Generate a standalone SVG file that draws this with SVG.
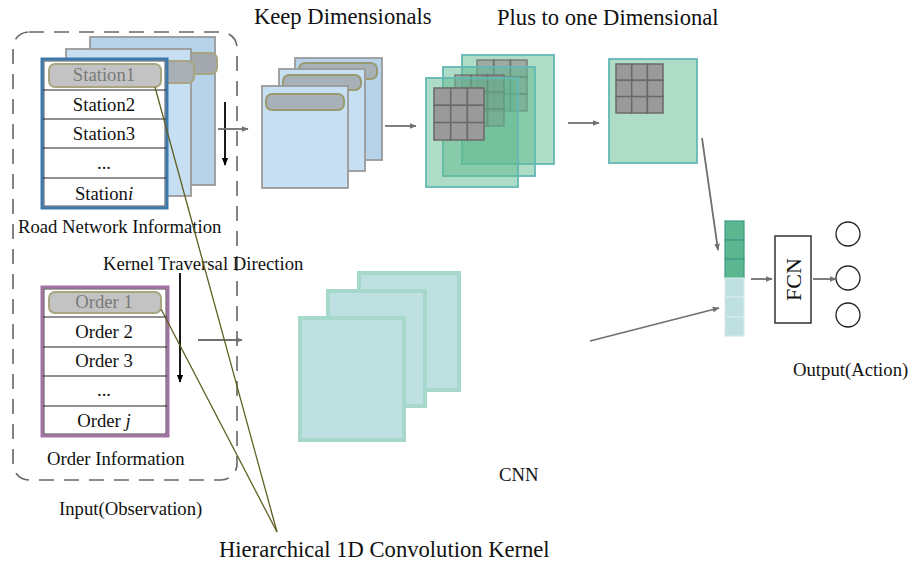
<svg xmlns="http://www.w3.org/2000/svg" width="912" height="564" viewBox="0 0 912 564">
<defs>
<marker id="ah" viewBox="0 0 10 10" refX="9" refY="5" markerWidth="7" markerHeight="7" markerUnits="userSpaceOnUse" orient="auto"><path d="M0,1 L10,5 L0,9 z" fill="#707070"/></marker>
<marker id="ahb" viewBox="0 0 10 10" refX="9" refY="5" markerWidth="8" markerHeight="8" markerUnits="userSpaceOnUse" orient="auto"><path d="M0,1 L10,5 L0,9 z" fill="#000"/></marker>
</defs>
<style>
text{font-family:"Liberation Serif","Times New Roman",serif;fill:#111;}
.t{font-size:18.7px;}
.h{font-size:22.6px;}
.c{text-anchor:middle;}
.sheetB{stroke:#9a9a9a;stroke-width:1.8;}
.bar{fill:#a9b1b8;stroke:#9a9a70;stroke-width:2;}
.grn{fill:#5fb98f;fill-opacity:0.5;stroke:#63b9b5;stroke-width:1.8;}
.grid{fill:#8c8c8c;fill-opacity:0.6;stroke:#6a6a6a;stroke-opacity:0.8;stroke-width:1.5;}
.cnn{fill:#bfe0e0;stroke:#a6d9cb;stroke-width:4;}
.arr{stroke:#707070;stroke-width:1.8;fill:none;marker-end:url(#ah);}
.kern{stroke:#5e5e20;stroke-width:1.3;fill:none;}
.row{stroke:#222;stroke-width:1.2;}
.hl{fill:#c3c3c3;stroke:#a8a680;stroke-width:2;}
</style>
<rect width="912" height="564" fill="#fff"/>

<g id="input-box">
<rect x="13" y="32" width="224" height="448" rx="16" fill="none" stroke="#666" stroke-width="1.6" stroke-dasharray="15,10"/>
</g>

<g id="road-network">
<rect x="90" y="37" width="125" height="148" class="sheetB" fill="#b6d3ea"/>
<rect x="160" y="53" width="57" height="21" rx="6" fill="#a3a9ae" stroke="#a8a680" stroke-width="2"/>
<rect x="66" y="49" width="125" height="147" class="sheetB" fill="#c7dff2"/>
<rect x="150" y="61" width="44" height="22" rx="6" fill="#a9afb4" stroke="#a8a680" stroke-width="2"/>
<rect x="42" y="59" width="125" height="149" fill="#fff" stroke="#3b79ad" stroke-width="3"/>
<rect x="44" y="61" width="121" height="145" fill="none" stroke="#1a2a3a" stroke-width="0.8"/>
<line x1="43" y1="90" x2="166" y2="90" class="row"/>
<line x1="43" y1="119" x2="166" y2="119" class="row"/>
<line x1="43" y1="148" x2="166" y2="148" class="row"/>
<line x1="43" y1="178" x2="166" y2="178" class="row"/>
<rect x="49" y="64" width="112" height="23" rx="6" class="hl"/>
<text x="104" y="81" class="t c" style="fill:#7a7a7a">Station1</text>
<text x="104" y="111" class="t c">Station2</text>
<text x="104" y="140" class="t c">Station3</text>
<text x="104" y="169" class="t c">...</text>
<text x="104" y="200" class="t c">Station<tspan font-style="italic">i</tspan></text>
<text x="18" y="233" class="t">Road Network Information</text>
</g>

<g id="order-info">
<rect x="42" y="287" width="126" height="149" fill="#fff" stroke="#a372a3" stroke-width="3"/>
<rect x="44" y="289" width="122" height="145" fill="none" stroke="#2a1a2a" stroke-width="0.8"/>
<line x1="43" y1="317" x2="167" y2="317" class="row"/>
<line x1="43" y1="347" x2="167" y2="347" class="row"/>
<line x1="43" y1="376" x2="167" y2="376" class="row"/>
<line x1="43" y1="406" x2="167" y2="406" class="row"/>
<rect x="49" y="292" width="112" height="21" rx="6" class="hl"/>
<text x="104" y="308" class="t c" style="fill:#7a7a7a">Order 1</text>
<text x="104" y="338" class="t c">Order 2</text>
<text x="104" y="367" class="t c">Order 3</text>
<text x="104" y="396" class="t c">...</text>
<text x="104" y="427" class="t c">Order <tspan font-style="italic">j</tspan></text>
<text x="47" y="465" class="t">Order Information</text>
</g>

<g id="labels">
<text x="103" y="270" class="t">Kernel Traversal Direction</text>
<text x="59" y="515" class="t">Input(Observation)</text>
<text x="254" y="24" class="h">Keep Dimensionals</text>
<text x="497" y="25" class="h">Plus to one Dimensional</text>
<text x="499" y="481" class="t">CNN</text>
<text x="793" y="376" class="t">Output(Action)</text>
<text x="219" y="557" class="h">Hierarchical 1D Convolution Kernel</text>
</g>

<g id="keep-dim">
<rect x="295" y="58" width="87" height="102" class="sheetB" fill="#b6d3ea"/>
<rect x="299" y="63" width="78" height="16" rx="6" class="bar"/>
<rect x="279" y="69" width="86" height="102" class="sheetB" fill="#c7dff2"/>
<rect x="283" y="75" width="78" height="15" rx="6" class="bar"/>
<rect x="262" y="86" width="86" height="102" class="sheetB" fill="#c7dff2"/>
<rect x="266" y="94" width="78" height="16" rx="6" class="bar"/>
</g>

<g id="green-stack">
<rect x="462" y="55" width="92" height="109" class="grn"/>
<g class="grid">
<rect x="477" y="60" width="16.7" height="17"/><rect x="493.7" y="60" width="16.7" height="17"/><rect x="510.4" y="60" width="16.6" height="17"/>
<rect x="477" y="77" width="16.7" height="17"/><rect x="493.7" y="77" width="16.7" height="17"/><rect x="510.4" y="77" width="16.6" height="17"/>
<rect x="477" y="94" width="16.7" height="17"/><rect x="493.7" y="94" width="16.7" height="17"/><rect x="510.4" y="94" width="16.6" height="17"/>
</g>
<rect x="443" y="67" width="92" height="109" class="grn"/>
<g class="grid">
<rect x="455" y="75" width="16.3" height="17"/><rect x="471.3" y="75" width="16.3" height="17"/><rect x="487.6" y="75" width="16.4" height="17"/>
<rect x="455" y="92" width="16.3" height="17"/><rect x="471.3" y="92" width="16.3" height="17"/><rect x="487.6" y="92" width="16.4" height="17"/>
<rect x="455" y="109" width="16.3" height="17"/><rect x="471.3" y="109" width="16.3" height="17"/><rect x="487.6" y="109" width="16.4" height="17"/>
</g>
<rect x="426" y="78" width="92" height="109" class="grn"/>
<g class="grid" style="fill-opacity:1;fill:#9a9a9a;stroke-opacity:1">
<rect x="434" y="88" width="16.7" height="17.3"/><rect x="450.7" y="88" width="16.7" height="17.3"/><rect x="467.4" y="88" width="16.6" height="17.3"/>
<rect x="434" y="105.3" width="16.7" height="17.3"/><rect x="450.7" y="105.3" width="16.7" height="17.3"/><rect x="467.4" y="105.3" width="16.6" height="17.3"/>
<rect x="434" y="122.6" width="16.7" height="17.4"/><rect x="450.7" y="122.6" width="16.7" height="17.4"/><rect x="467.4" y="122.6" width="16.6" height="17.4"/>
</g>
</g>

<g id="one-dim">
<rect x="609" y="59" width="88" height="104" class="grn"/>
<g class="grid" style="fill-opacity:1;fill:#9a9a9a;stroke-opacity:1">
<rect x="616" y="64" width="15.7" height="16.3"/><rect x="631.7" y="64" width="15.7" height="16.3"/><rect x="647.4" y="64" width="15.6" height="16.3"/>
<rect x="616" y="80.3" width="15.7" height="16.3"/><rect x="631.7" y="80.3" width="15.7" height="16.3"/><rect x="647.4" y="80.3" width="15.6" height="16.3"/>
<rect x="616" y="96.6" width="15.7" height="16.4"/><rect x="631.7" y="96.6" width="15.7" height="16.4"/><rect x="647.4" y="96.6" width="15.6" height="16.4"/>
</g>
</g>

<g id="cnn">
<rect x="359" y="273" width="100" height="117" class="cnn"/>
<rect x="328" y="291" width="97" height="115" class="cnn"/>
<rect x="300" y="318" width="104" height="122" class="cnn"/>
</g>

<g id="vector">
<g fill="#5cb68f" stroke="#3a9c86" stroke-width="1.2">
<rect x="725" y="221" width="19" height="19"/>
<rect x="725" y="240" width="19" height="19"/>
<rect x="725" y="259" width="19" height="19"/>
</g>
<g fill="#bfe0e0" stroke="#d3ebe9" stroke-width="1.2">
<rect x="725" y="278" width="19" height="19"/>
<rect x="725" y="297" width="19" height="20"/>
<rect x="725" y="317" width="19" height="19"/>
</g>
</g>

<g id="fcn">
<rect x="775" y="236" width="36" height="87" fill="#fff" stroke="#333" stroke-width="1.5"/>
<text x="0" y="0" class="c" transform="translate(801,279.5) rotate(-90)" style="font-size:22px">FCN</text>
</g>

<g id="outputs" fill="#fff" stroke="#222" stroke-width="1.3">
<circle cx="848" cy="234" r="12"/>
<circle cx="848" cy="278" r="12"/>
<circle cx="848" cy="315" r="12"/>
</g>

<g id="connectors">
<line x1="225" y1="102" x2="225" y2="165" stroke="#000" stroke-width="1.8" marker-end="url(#ahb)"/>
<line x1="180" y1="273" x2="180" y2="382" stroke="#000" stroke-width="1.8" marker-end="url(#ahb)"/>
<line x1="218" y1="129" x2="248" y2="129" class="arr"/>
<line x1="198" y1="340" x2="242" y2="340" class="arr"/>
<line x1="385" y1="126" x2="416" y2="126" class="arr"/>
<line x1="568" y1="123" x2="599" y2="123" class="arr"/>
<line x1="702" y1="138" x2="718" y2="250" class="arr"/>
<line x1="590" y1="341" x2="719" y2="308" class="arr"/>
<line x1="751" y1="279" x2="772" y2="279" class="arr"/>
<line x1="813" y1="279" x2="836" y2="279" class="arr"/>
<line x1="155" y1="87" x2="277" y2="532" class="kern"/>
<line x1="161" y1="309" x2="277" y2="532" class="kern"/>
</g>
</svg>
